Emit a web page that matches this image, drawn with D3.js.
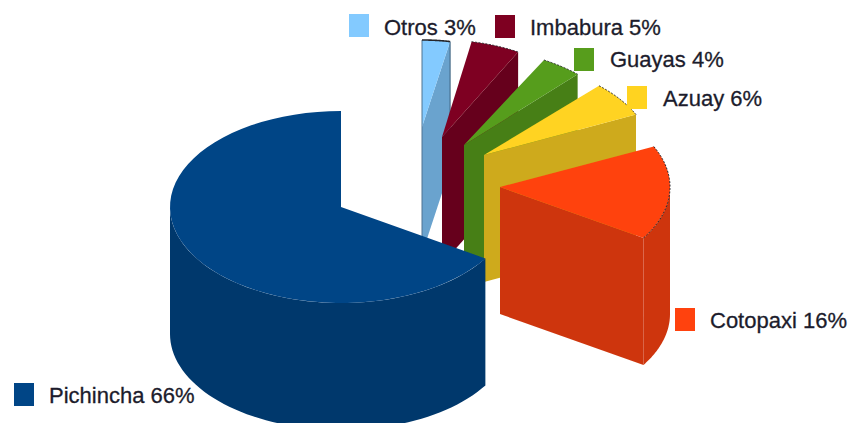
<!DOCTYPE html>
<html>
<head>
<meta charset="utf-8">
<script src="https://cdn.jsdelivr.net/npm/d3@7"></script>
<style>
  html, body { margin: 0; padding: 0; background: #fff; overflow: hidden; }
  text { font-family: "Liberation Sans", Arial, sans-serif; font-size: 22px; fill: #1c1c2c; stroke: #1c1c2c; stroke-width: 0.3px; }
</style>
</head>
<body>
<div id="container"></div>
<script>
const width = 852;
const height = 423;

// --- Data, clockwise from twelve o'clock ---
const provinces = ["Otros", "Imbabura", "Guayas", "Azuay", "Cotopaxi", "Pichincha"];
const shares = [3, 5, 4, 6, 16, 66];
const colors = ["#83caff", "#7e0021", "#579d1c", "#ffd320", "#ff420e", "#004586"];

// --- Layout: each exploded slice has its own apex and projected radii ---
const apexX = [422, 442, 464, 484, 500, 341];
const apexY = [127, 137, 145, 155, 187, 207];
const radiusX = [150, 158, 166, 168, 170, 171];
const radiusY = [87, 97, 97, 95, 95, 96];
const depth = 127;

const legendX = [349, 495, 574, 627, 675, 14];
const legendY = [14, 15, 48, 86, 308, 383];
const labelX = [384, 530, 610, 663, 710, 49];
const labelY = [35, 35, 67, 106, 328, 403];

const svg = d3.select("#container").append("svg")
  .attr("width", width).attr("height", height);

// slight blur, the source is an enlarged low resolution picture
svg.append("defs").append("filter").attr("id", "soft")
  .attr("x", "-5%").attr("y", "-5%").attr("width", "110%").attr("height", "110%")
  .append("feGaussianBlur").attr("stdDeviation", 0.55);

const root = svg.append("g").attr("filter", "url(#soft)");

const arcs = d3.pie().sort(null).value(d => d)(shares);

const line = d3.line();
const rim = (i, a, drop = 0) => [
  apexX[i] + radiusX[i] * Math.sin(a),
  apexY[i] - radiusY[i] * Math.cos(a) + drop,
];
const sweep = (i, a0, a1, drop = 0) =>
  d3.range(0, 1.0001, 1 / 60).map(t => rim(i, a0 + (a1 - a0) * t, drop));

// --- Slices, back to front ---
arcs.forEach((d, i) => {
  const top = [apexX[i], apexY[i]];
  const side = d3.rgb(colors[i]).darker(0.6).toString();
  const g = root.append("g");

  // outer wall, only the front half of the ellipse can be seen
  const a0 = Math.max(d.startAngle, Math.PI / 2);
  const a1 = Math.min(d.endAngle, Math.PI * 1.5);
  if (a1 > a0) {
    g.append("path")
      .attr("d", line([...sweep(i, a0, a1), ...sweep(i, a1, a0, depth)]) + "Z")
      .attr("fill", side);
  }

  // cut face at the end angle
  if (d.endAngle < Math.PI) {
    g.append("path")
      .attr("d", line([top, rim(i, d.endAngle), rim(i, d.endAngle, depth), [top[0], top[1] + depth]]) + "Z")
      .attr("fill", side);
  }

  // top face
  g.append("path")
    .attr("d", line([top, ...sweep(i, d.startAngle, d.endAngle)]) + "Z")
    .attr("fill", colors[i]);

  // the narrow back slice carries a dark outline in the source
  if (i === 0) {
    g.append("path")
      .attr("d", line([rim(i, d.startAngle), [top[0], top[1] + depth]]))
      .attr("fill", "none")
      .attr("stroke", "#4f7392");
    g.append("path")
      .attr("d", line([rim(i, d.endAngle), rim(i, d.endAngle, depth)]))
      .attr("fill", "none")
      .attr("stroke", "#3d5f7c");
  }

  // jagged dark edge on the rim of the small slices
  if (i < 5) {
    g.append("path")
      .attr("d", line(sweep(i, d.startAngle, d.endAngle)))
      .attr("fill", "none")
      .attr("stroke", "#26282c")
      .attr("stroke-width", i === 0 ? 1.6 : 1)
      .attr("stroke-dasharray", i === 0 ? null : "2,1.5");
  }
});

// --- Legend ---
const legend = svg.append("g").selectAll("g").data(provinces).join("g");
legend.append("rect")
  .attr("x", (d, i) => legendX[i]).attr("y", (d, i) => legendY[i])
  .attr("width", 20).attr("height", 23)
  .attr("fill", (d, i) => colors[i]);
legend.append("text")
  .attr("x", (d, i) => labelX[i]).attr("y", (d, i) => labelY[i])
  .text((d, i) => `${d} ${shares[i]}%`);
</script>
</body>
</html>
